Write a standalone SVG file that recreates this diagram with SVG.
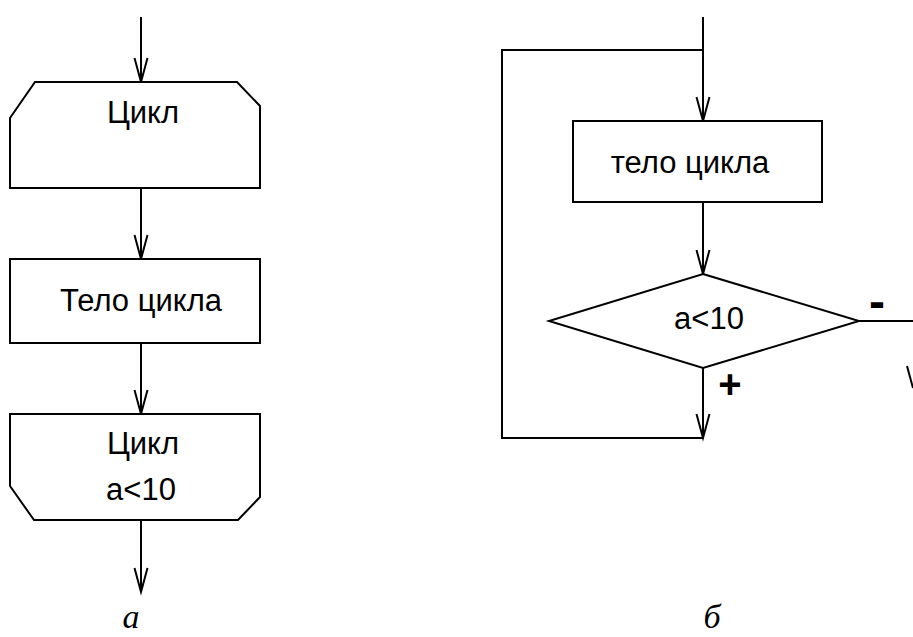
<svg xmlns="http://www.w3.org/2000/svg" width="913" height="637" viewBox="0 0 913 637">
<style>
.shape{fill:#fff;stroke:#000;stroke-width:2;stroke-linejoin:miter}
.line{fill:none;stroke:#000;stroke-width:2}
.t{font-family:"Liberation Sans",Arial,sans-serif;font-size:31px;fill:#000;text-anchor:middle}
.sign{font-family:"Liberation Sans",Arial,sans-serif;font-weight:bold;fill:#000;text-anchor:middle}
.cap{font-family:"Liberation Serif","Times New Roman",serif;font-style:italic;font-size:34px;fill:#000;text-anchor:middle}
</style>
<defs>
<marker id="v" markerUnits="userSpaceOnUse" markerWidth="30" markerHeight="20" viewBox="-27 -10 30 20" refX="0" refY="0" orient="auto" overflow="visible">
<path d="M-24,-6.5 L0,0 L-24,6.5" fill="none" stroke="#000" stroke-width="2"/>
</marker>
</defs>
<rect width="913" height="637" fill="#fff"/>
<g id="connectors">
<line class="line" x1="141" y1="17" x2="141" y2="82" marker-end="url(#v)"/>
<line class="line" x1="141" y1="188" x2="141" y2="259" marker-end="url(#v)"/>
<line class="line" x1="141" y1="343" x2="141" y2="414" marker-end="url(#v)"/>
<line class="line" x1="141" y1="520" x2="141" y2="592" marker-end="url(#v)"/>
<line class="line" x1="703" y1="17" x2="703" y2="121" marker-end="url(#v)"/>
<line class="line" x1="703" y1="202" x2="703" y2="274" marker-end="url(#v)"/>
<line class="line" x1="703" y1="368" x2="703" y2="438" marker-end="url(#v)"/>
<polyline class="line" points="703,438 502,438 502,50 703,50"/>
<line class="line" x1="859" y1="321" x2="913" y2="321"/>
<line class="line" x1="907" y1="366" x2="913" y2="388"/>
</g>
<g id="loop-start">
<path class="shape" d="M35,82 L237,82 L260,106 L260,188 L10,188 L10,118 Z"/>
<text class="t" x="143" y="123">Цикл</text>
</g>
<g id="body-a">
<rect class="shape" x="10" y="259" width="250" height="84"/>
<text class="t" x="141" y="311">Тело цикла</text>
</g>
<g id="loop-end">
<path class="shape" d="M10,414 L260,414 L260,497 L238,520 L34,520 L10,486 Z"/>
<text class="t" x="143" y="454">Цикл</text>
<text class="t" x="141" y="500">a&lt;10</text>
</g>
<g id="body-b">
<rect class="shape" x="573" y="121" width="249" height="81"/>
<text class="t" x="690" y="173">тело цикла</text>
</g>
<g id="condition">
<polygon class="shape" points="703,274 859,321 703,368 549,321"/>
<text class="t" x="709" y="329">a&lt;10</text>
</g>
<text class="sign" x="877" y="318" font-size="48">-</text>
<text class="sign" x="730" y="398" font-size="40">+</text>
<text class="cap" x="131" y="628">а</text>
<text class="cap" x="712" y="628">б</text>
</svg>
